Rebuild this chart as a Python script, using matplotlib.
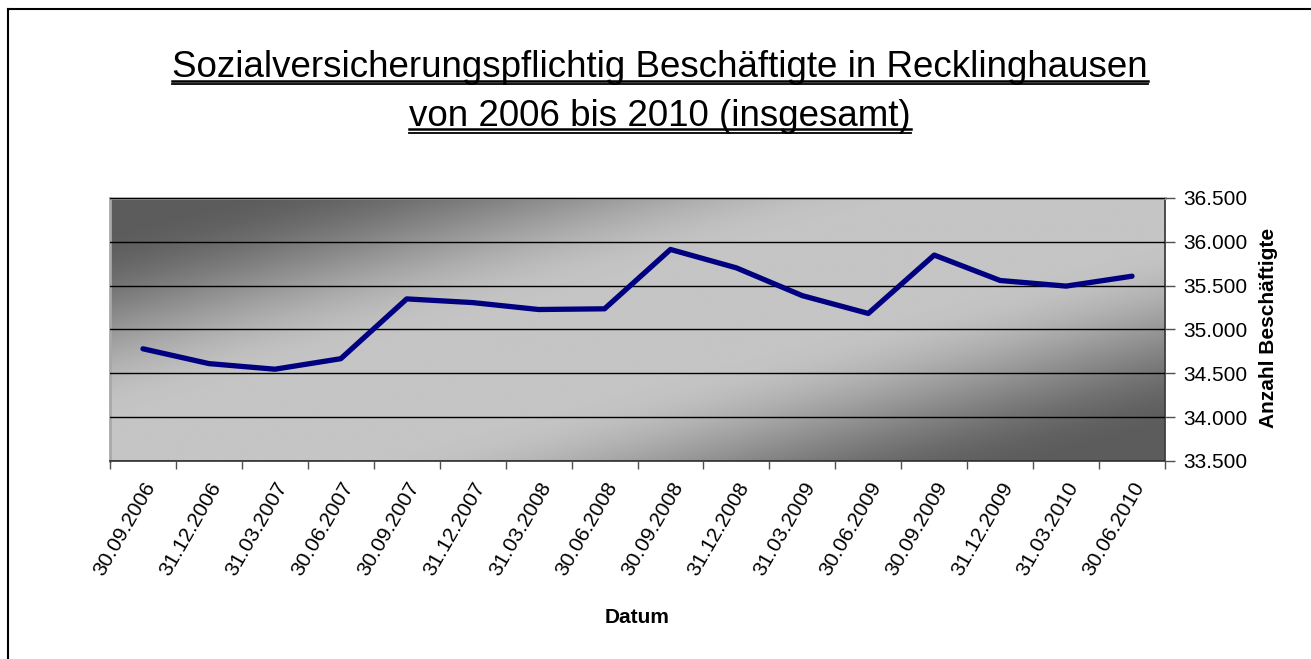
import numpy as np
import matplotlib
matplotlib.use('Agg')
import matplotlib.pyplot as plt
from matplotlib.lines import Line2D

plt.rcParams['font.family'] = ['Liberation Sans', 'DejaVu Sans']

# Stichtage und Werte
dates = ['30.09.2006', '31.12.2006', '31.03.2007', '30.06.2007',
         '30.09.2007', '31.12.2007', '31.03.2008', '30.06.2008',
         '30.09.2008', '31.12.2008', '31.03.2009', '30.06.2009',
         '30.09.2009', '31.12.2009', '31.03.2010', '30.06.2010']
employees = [34780, 34611, 34547, 34667, 35349, 35307, 35228, 35236,
             35913, 35703, 35386, 35183, 35849, 35559, 35495, 35608]
y_ticks = [33500, 34000, 34500, 35000, 35500, 36000, 36500]

W, H = 1311, 659
fig = plt.figure(figsize=(W / 100, H / 100), dpi=100)
fig.patch.set_facecolor('white')

ax = fig.add_axes([110 / W, 198 / H, 1055 / W, 263 / H])


def smooth(s):
    s = np.clip(s, 0, 1)
    return 3 * s ** 2 - 2 * s ** 3


# diagonal gradient background (dark - light - dark)
gw, gh = 500, 150
u = np.linspace(0, 1, gw)[None, :]
v = np.linspace(0, 1, gh)[:, None]   # 0 = top row
w = u + 0.9 * v
bright = smooth((w - 0.1) / 0.65) * (1 - smooth((w - 1.15) / 0.65))
light, dark = 0.77, 0.36
grad = dark + (light - dark) * bright
ax.imshow(grad, cmap='gray', vmin=0, vmax=1, extent=(0, 1, 0, 1),
          transform=ax.transAxes, aspect='auto', zorder=0,
          interpolation='bilinear')

x = np.arange(len(dates))
ax.plot(x, employees, color='#000080', lw=3.8, solid_joinstyle='round',
        solid_capstyle='round', zorder=3)

ax.set_xlim(-0.5, len(dates) - 0.5)
ax.set_ylim(33500, 36500)

# x axis: ticks between categories, labels centered
ax.set_xticks(np.arange(-0.5, len(dates), 1))
ax.set_xticklabels([])
ax.set_xticks(x, dates, minor=True)
ax.tick_params(axis='x', which='major', length=6, color='#505050', width=1)
ax.tick_params(axis='x', which='minor', length=0, pad=13, labelsize=15)
for lab in ax.get_xticklabels(minor=True):
    lab.set_rotation(60)
    lab.set_ha('right')
    lab.set_va('top')
    lab.set_rotation_mode('anchor')

# y axis on the right
ax.yaxis.tick_right()
ax.set_yticks(y_ticks)
ax.set_yticklabels([f'{t:,}'.replace(',', '.') for t in y_ticks])
ax.tick_params(axis='y', which='major', length=7, color='#505050', width=1,
               labelsize=15, pad=6, left=False)

ax.grid(axis='y', color='black', lw=1, zorder=1)
ax.set_axisbelow(False)
for g in ax.get_ygridlines():
    g.set_zorder(1)

for side in ['left', 'top']:
    ax.spines[side].set_color('#a8a8a8')
    ax.spines[side].set_linewidth(2)
for side in ['bottom', 'right']:
    ax.spines[side].set_color('#404040')
    ax.spines[side].set_linewidth(1.3)

fig.text(1269 / W, 1 - 328 / H, 'Anzahl Beschäftigte', rotation=90,
         ha='center', va='center', fontsize=15, fontweight='bold')
fig.text(637.5 / W, 1 - 623 / H, 'Datum', ha='center', va='baseline',
         fontsize=15, fontweight='bold')

# title with double underline
t1 = fig.text(660 / W, 1 - 77.3 / H,
              'Sozialversicherungspflichtig Beschäftigte in Recklinghausen',
              ha='center', va='baseline', fontsize=26.5)
t2 = fig.text(660 / W, 1 - 126 / H, 'von 2006 bis 2010 (insgesamt)',
              ha='center', va='baseline', fontsize=26.5)

fig.canvas.draw()
r = fig.canvas.get_renderer()
for t in (t1, t2):
    bb = t.get_window_extent(r)
    base = t.get_position()[1] * H
    for off, lw in ((3.3, 1.8), (6.5, 1.3)):
        yy = (base - off) / H
        fig.add_artist(Line2D([bb.x0 / W, bb.x1 / W], [yy, yy],
                              transform=fig.transFigure, color='black', lw=lw))

# chart border (left and top visible)
fig.add_artist(Line2D([8 / W, 8 / W], [0, 1 - 9 / H], transform=fig.transFigure,
                      color='black', lw=1.5))
fig.add_artist(Line2D([8 / W, 1], [1 - 9 / H, 1 - 9 / H], transform=fig.transFigure,
                      color='black', lw=1.5))

fig.savefig('out.png', dpi=100, facecolor='white')
